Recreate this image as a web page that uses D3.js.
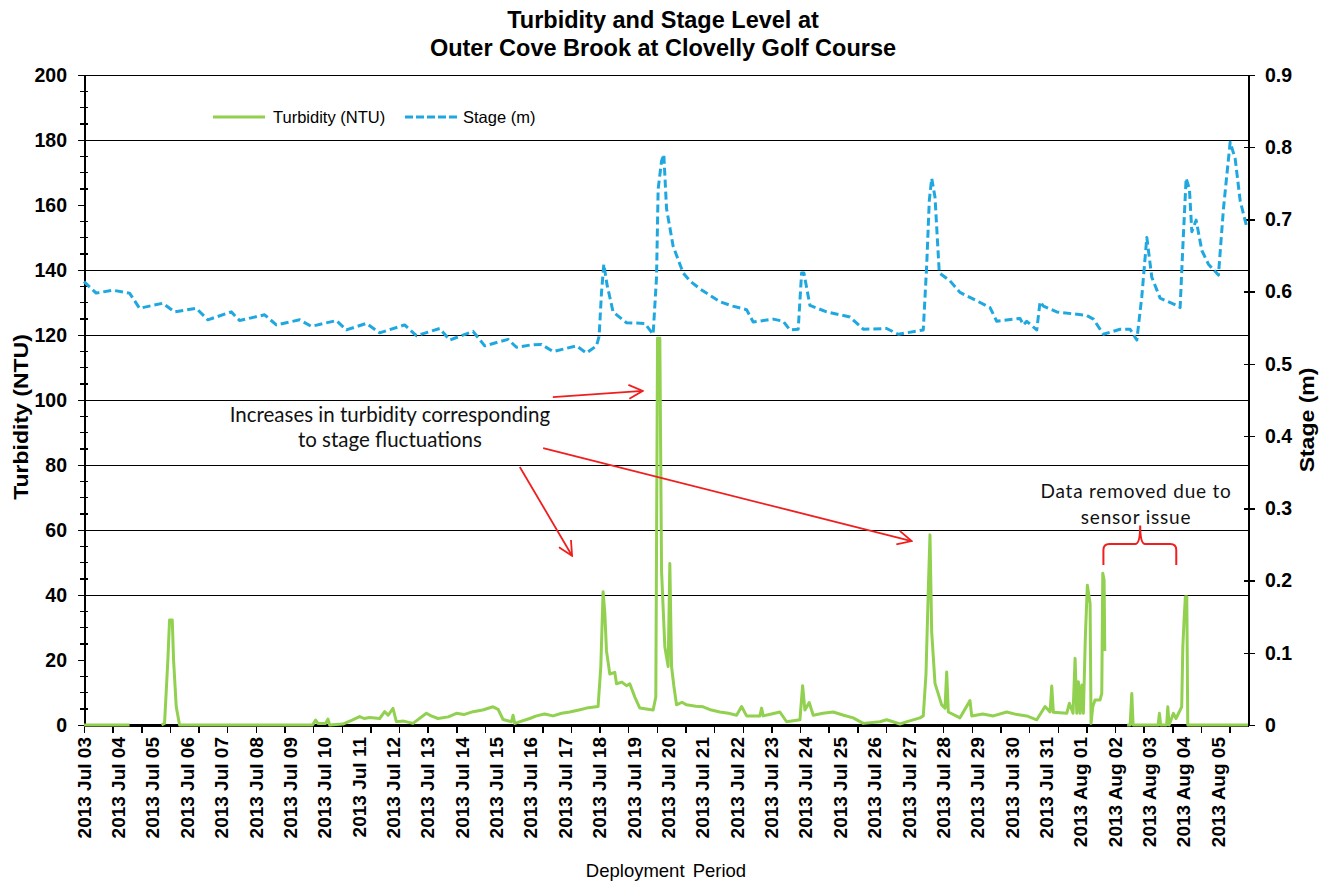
<!DOCTYPE html>
<html><head><meta charset="utf-8">
<script src="https://cdn.jsdelivr.net/npm/d3@7"></script>
<style>body{margin:0;background:#fff}svg{display:block}</style>
</head><body><svg id="c" width="1325" height="882"></svg>
<script>
const titleLines = ["Turbidity and Stage Level at", "Outer Cove Brook at Clovelly Golf Course"];
const xLabels = ["2013 Jul 03","2013 Jul 04","2013 Jul 05","2013 Jul 06","2013 Jul 07","2013 Jul 08","2013 Jul 09","2013 Jul 10","2013 Jul 11","2013 Jul 12","2013 Jul 13","2013 Jul 14","2013 Jul 15","2013 Jul 16","2013 Jul 17","2013 Jul 18","2013 Jul 19","2013 Jul 20","2013 Jul 21","2013 Jul 22","2013 Jul 23","2013 Jul 24","2013 Jul 25","2013 Jul 26","2013 Jul 27","2013 Jul 28","2013 Jul 29","2013 Jul 30","2013 Jul 31","2013 Aug 01","2013 Aug 02","2013 Aug 03","2013 Aug 04","2013 Aug 05"];
const turbTicks = [0,20,40,60,80,100,120,140,160,180,200];
const stageTicks = [0,0.1,0.2,0.3,0.4,0.5,0.6,0.7,0.8,0.9];
const gridValues = [40,60,80,100,120,140,180];
const seriesNames = ["Turbidity (NTU)", "Stage (m)"];

// time in days since 2013-07-03 00:00
const stageT = [0,0.355,0.838,1.325,1.616,2.294,2.635,3.266,3.604,4.285,4.527,5.255,5.595,6.274,6.614,7.342,7.633,8.215,8.603,9.330,9.671,10.349,10.640,11.319,11.659,12.338,12.582,12.969,13.310,13.648,14.329,14.620,14.911,14.987,15.057,15.124,15.220,15.394,15.784,16.317,16.559,16.658,16.705,16.804,16.870,16.949,17.141,17.432,17.627,17.918,18.210,18.501,18.880,19.278,19.470,20.052,20.343,20.539,20.780,20.879,20.946,21.121,21.607,22.285,22.673,23.354,23.692,24.419,24.518,24.594,24.664,24.760,24.885,25.196,25.487,26.361,26.556,27.234,27.331,27.430,27.721,27.817,27.913,28.303,29.177,29.369,29.660,30.146,30.437,30.632,30.777,30.923,31.068,31.310,31.843,31.892,31.971,32.067,32.163,32.233,32.358,32.524,32.716,33.007,33.153,33.348,33.494,33.639,33.834];
const stageV = [0.614,0.598,0.602,0.598,0.577,0.584,0.572,0.577,0.561,0.572,0.560,0.568,0.554,0.561,0.552,0.560,0.547,0.556,0.543,0.554,0.539,0.549,0.533,0.545,0.525,0.534,0.523,0.526,0.527,0.517,0.525,0.515,0.525,0.538,0.599,0.638,0.609,0.572,0.557,0.556,0.541,0.620,0.742,0.781,0.790,0.715,0.663,0.626,0.615,0.604,0.595,0.586,0.580,0.575,0.558,0.562,0.559,0.547,0.548,0.626,0.626,0.581,0.572,0.565,0.548,0.549,0.541,0.547,0.636,0.726,0.757,0.731,0.626,0.615,0.599,0.578,0.559,0.563,0.554,0.559,0.547,0.586,0.580,0.572,0.567,0.562,0.541,0.548,0.548,0.533,0.593,0.675,0.620,0.591,0.580,0.578,0.662,0.757,0.742,0.683,0.699,0.657,0.638,0.623,0.715,0.807,0.784,0.726,0.689];

const turbT = [0,1.325,1.8,2.256,2.344,2.440,2.489,2.568,2.606,2.684,2.780,6.652,6.739,6.806,7.031,7.098,7.147,7.534,7.800,8.020,8.150,8.312,8.603,8.748,8.850,8.990,9.089,9.300,9.572,9.962,10.100,10.300,10.600,10.836,11.050,11.319,11.600,11.901,12.050,12.192,12.437,12.483,12.533,12.969,13.164,13.400,13.648,13.900,14.134,14.400,14.620,14.958,15.037,15.103,15.153,15.202,15.298,15.444,15.493,15.650,15.784,15.880,16.026,16.172,16.559,16.637,16.687,16.754,16.804,16.900,16.996,17.045,17.095,17.162,17.240,17.400,17.531,17.800,18.015,18.250,18.501,18.750,18.987,19.133,19.278,19.665,19.715,19.761,20.000,20.247,20.443,20.830,20.908,20.975,21.100,21.217,21.500,21.799,22.100,22.381,22.673,23.159,23.354,23.741,24.000,24.323,24.419,24.498,24.565,24.614,24.664,24.760,24.955,25.051,25.100,25.147,25.487,25.778,25.828,26.150,26.457,26.847,27.150,27.430,27.721,27.962,28.108,28.157,28.204,28.594,28.670,28.777,28.836,28.885,28.932,28.981,29.031,29.077,29.135,29.193,29.272,29.301,29.350,29.417,29.563,29.612,29.642,29.680,29.700,30.0,30.349,30.437,30.486,30.524,31.252,31.290,31.325,31.500,31.534,31.572,31.697,31.772,31.938,31.971,32.009,32.045,32.086,32.115,33.867];
const turbV = [0,0,null,0,0.5,20,32.3,32.3,20,5.6,0,0,1.5,0.5,0.5,1.8,0,0.3,1.5,2.6,2.0,2.3,2,4.1,3.0,5.1,1,1.2,0.5,3.6,2.8,2,2.5,3.6,3.2,4.1,4.6,5.6,4.8,1.7,1,3,0.5,2,2.8,3.4,2.8,3.6,4,4.6,5.2,5.7,18,41,34.5,22.8,15.7,16.2,12.7,13.2,12.1,12.7,8.6,5.2,4.6,8.6,119,119,47.4,24,18,49.7,18,12,6.2,7.0,6.2,5.8,5.6,4.6,4,3.6,3,5.7,2.8,2.8,5.2,2.8,3.4,4,1,1.6,12.1,4.6,6.9,3,3.6,4,3.0,2.2,0.5,1,1.6,0.3,1.2,2.2,2.8,15.7,41.5,58.5,28.6,12.8,6.2,5.2,16.3,4,2.2,7.5,2.8,3.4,2.8,4,3.2,2.8,1.6,5.7,4,12,3.9,3.6,6.7,3.6,20.5,3.6,13.3,3.6,12.3,3.6,27.2,43,37.4,0.5,5.6,7.7,7.7,9.7,46.7,44.6,22.8,null,0,0,9.7,0,0,3.6,0,0,5.6,0,3.6,2,5.6,24,32.8,39.5,39.5,0,0];

const GREEN = "#92d050", BLUE = "#1fa8e0", RED = "#f01e1e";
const svg = d3.select("#c");
svg.append("rect").attr("width",1325).attr("height",882).attr("fill","#fff");

const M = {l:84, r:1248, t:75, b:725};
const start = new Date(2013,6,3);
const DAY = 864e5;
const spanDays = 33.867;
const T = t => new Date(+start + t*DAY);
const x = d3.scaleTime().domain([start, T(spanDays)]).range([M.l, M.r]);
const yL = d3.scaleLinear().domain([0,200]).range([M.b, M.t]);
const yR = d3.scaleLinear().domain([0,0.9]).range([M.b, M.t]);

const ARIAL = "'Liberation Sans', Arial, sans-serif";
const CAL = "Lato, 'Open Sans', sans-serif";

// title
svg.append("g").selectAll("text").data(titleLines).join("text")
  .attr("x", 663).attr("y", (d,i)=> 28 + i*28)
  .attr("text-anchor","middle").attr("font-family",ARIAL).attr("font-weight","bold")
  .attr("font-size",23.5).attr("fill","#000").text(d=>d);

// gridlines
svg.append("g").selectAll("line").data(gridValues).join("line")
  .attr("x1",M.l).attr("x2",M.r).attr("y1",d=>yL(d)+0.5).attr("y2",d=>yL(d)+0.5)
  .attr("stroke","#000").attr("stroke-width",1).attr("shape-rendering","crispEdges");
// top border
svg.append("line").attr("x1",M.l).attr("x2",M.r).attr("y1",yL(200)+0.5).attr("y2",yL(200)+0.5)
  .attr("stroke","#000").attr("stroke-width",1.5).attr("shape-rendering","crispEdges");

// left axis
const gL = svg.append("g").attr("transform",`translate(${M.l},0)`)
  .call(d3.axisLeft(yL).tickValues(turbTicks).tickSize(6).tickSizeOuter(0).tickPadding(11).tickFormat(d3.format("d")));
gL.select(".domain").attr("stroke","#000").attr("stroke-width",2).attr("shape-rendering","crispEdges");
gL.selectAll(".tick line").attr("stroke","#000").attr("stroke-width",1.5).attr("shape-rendering","crispEdges");
gL.selectAll(".tick text").attr("font-family",ARIAL).attr("font-weight","bold").attr("font-size",19.5).attr("fill","#000");
const minor = d3.range(5,200,5).filter(v=>v%20!==0);
svg.append("g").selectAll("line").data(minor).join("line")
  .attr("x1",M.l-4).attr("x2",M.l+4).attr("y1",d=>yL(d)).attr("y2",d=>yL(d))
  .attr("stroke","#000").attr("stroke-width",1.5).attr("shape-rendering","crispEdges");

// right axis
const gR = svg.append("g").attr("transform",`translate(${M.r},0)`)
  .call(d3.axisRight(yR).tickValues(stageTicks).tickSize(7).tickSizeOuter(0).tickPadding(10)
     .tickFormat(d=> d===0 ? "0" : d3.format(".1f")(d)));
gR.select(".domain").attr("stroke","#000").attr("stroke-width",2).attr("shape-rendering","crispEdges");
gR.selectAll(".tick line").attr("x1",-4).attr("stroke","#000").attr("stroke-width",1.5).attr("shape-rendering","crispEdges");
gR.selectAll(".tick text").attr("font-family",ARIAL).attr("font-weight","bold").attr("font-size",19.5).attr("fill","#000");

// bottom axis (tick marks every 20 hours, labels every day)
const tickDates = d3.range(0,41).map(k => new Date(+start + k*20*3600e3));
const gB = svg.append("g").attr("transform",`translate(0,${M.b})`)
  .call(d3.axisBottom(x).tickValues(tickDates).tickSize(8).tickSizeOuter(0).tickFormat(""));
gB.select(".domain").attr("stroke","#000").attr("stroke-width",2.5).attr("shape-rendering","crispEdges");
gB.selectAll(".tick line").attr("stroke","#000").attr("stroke-width",1.5).attr("shape-rendering","crispEdges");

svg.append("g").selectAll("text").data(xLabels).join("text")
  .attr("transform",(d,i)=>`translate(${x(T(i))},737) rotate(-90)`)
  .attr("text-anchor","end").attr("dy","0.35em")
  .attr("font-family",ARIAL).attr("font-weight","bold").attr("font-size",19).attr("fill","#000")
  .text(d=>d);

// axis titles
svg.append("text").attr("transform",`translate(28,417) rotate(-90) scale(1.15,1)`)
  .attr("text-anchor","middle").attr("font-family",ARIAL).attr("font-weight","bold").attr("font-size",20)
  .text("Turbidity (NTU)");
svg.append("text").attr("transform",`translate(1314,420) rotate(-90) scale(1.15,1)`)
  .attr("text-anchor","middle").attr("font-family",ARIAL).attr("font-weight","bold").attr("font-size",20)
  .text("Stage (m)");
svg.append("text").attr("x",666).attr("y",877).attr("text-anchor","middle")
  .attr("font-family",ARIAL).attr("font-size",18.5).attr("word-spacing",3).text("Deployment Period");

// series
const stageData = stageT.map((t,i)=>({t, v:stageV[i]}));
const turbData = turbT.map((t,i)=>({t, v:turbV[i]}));
svg.append("path").datum(stageData)
  .attr("d", d3.line().x(d=>x(T(d.t))).y(d=>yR(d.v)))
  .attr("fill","none").attr("stroke",BLUE).attr("stroke-width",3)
  .attr("stroke-dasharray","8,4").attr("stroke-linejoin","round");
svg.append("path").datum(turbData)
  .attr("d", d3.line().defined(d=>d.v!==null).x(d=>x(T(d.t))).y(d=>yL(d.v)))
  .attr("fill","none").attr("stroke",GREEN).attr("stroke-width",3).attr("stroke-linejoin","round");

// legend
const lg = svg.append("g");
lg.append("line").attr("x1",213).attr("x2",265).attr("y1",117).attr("y2",117).attr("stroke",GREEN).attr("stroke-width",3);
lg.append("text").attr("x",273).attr("y",123).attr("font-family",ARIAL).attr("font-size",16.5).text(seriesNames[0]);
lg.append("line").attr("x1",405).attr("x2",458).attr("y1",117).attr("y2",117).attr("stroke",BLUE).attr("stroke-width",3).attr("stroke-dasharray","8,3");
lg.append("text").attr("x",463).attr("y",123).attr("font-family",ARIAL).attr("font-size",16.5).text(seriesNames[1]);

// annotations (anchored in data space: days, NTU)
const defs = svg.append("defs");
defs.append("marker").attr("id","arr").attr("viewBox","0 0 16 16").attr("refX",15).attr("refY",8)
  .attr("markerWidth",16).attr("markerHeight",16).attr("markerUnits","userSpaceOnUse").attr("orient","auto")
  .append("path").attr("d","M1,1 L15,8 L1,15").attr("fill","none").attr("stroke",RED).attr("stroke-width",1.8);
const arrows = [
  {t0:13.64, v0:100.9, t1:16.26, v1:102.8},
  {t0:13.36, v0:85.2, t1:24.08, v1:56.6},
  {t0:12.68, v0:79.4, t1:14.20, v1:52.1}
];
svg.append("g").selectAll("line").data(arrows).join("line")
  .attr("x1",d=>x(T(d.t0))).attr("y1",d=>yL(d.v0)).attr("x2",d=>x(T(d.t1))).attr("y2",d=>yL(d.v1))
  .attr("stroke",RED).attr("stroke-width",1.8).attr("marker-end","url(#arr)");

const note1 = ["Increases in turbidity corresponding", "to stage fluctuations"];
svg.append("g").selectAll("text").data(note1).join("text")
  .attr("x", x(T(8.9))).attr("y",(d,i)=> yL(i===0?93.3:85.5))
  .attr("text-anchor","middle").attr("font-family",CAL).attr("font-size",20.5).attr("fill","#111")
  .text(d=>d);
const note2 = ["Data removed due to", "sensor issue"];
svg.append("g").selectAll("text").data(note2).join("text")
  .attr("x", x(T(30.61))).attr("y",(d,i)=> yL(i===0?69.8:61.8))
  .attr("text-anchor","middle").attr("font-family",CAL).attr("font-size",19).attr("fill","#111")
  .attr("letter-spacing",0.8)
  .text(d=>d);

// brace
const bxl = x(T(29.66)), bxr = x(T(31.78)), bxm = x(T(30.73));
const byb = yL(49.2), byc = yL(55.7), byp = yL(61.4);
svg.append("path")
  .attr("d",`M${bxl},${byb} L${bxl},${byc+6} Q${bxl},${byc} ${bxl+6},${byc} L${bxm-5},${byc} Q${bxm},${byc} ${bxm},${byp} Q${bxm},${byc} ${bxm+5},${byc} L${bxr-6},${byc} Q${bxr},${byc} ${bxr},${byc+6} L${bxr},${byb}`)
  .attr("fill","none").attr("stroke",RED).attr("stroke-width",2);
</script></body></html>
